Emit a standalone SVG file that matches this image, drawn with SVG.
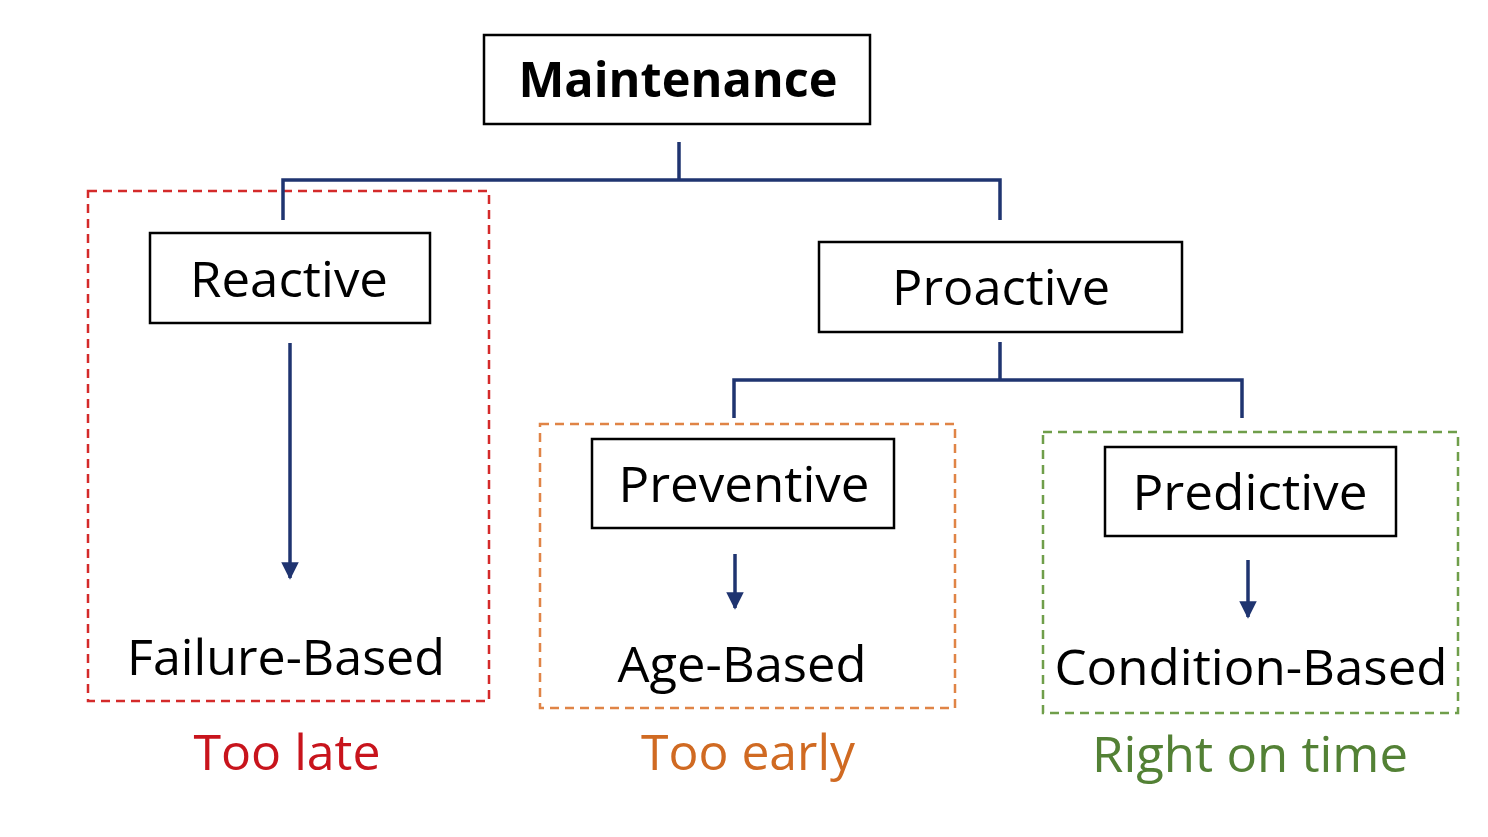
<svg xmlns="http://www.w3.org/2000/svg" width="1488" height="837" viewBox="0 0 1488 837">
<defs>
<style>
.box{fill:#fff;stroke:#000;stroke-width:2.5}
.t{font-family:"Open Sans","Noto Sans","Liberation Sans",sans-serif;font-size:49px;fill:#000;text-anchor:middle;font-variant-ligatures:none}
.b{font-weight:bold}
.c{fill:none;stroke:#1f3470;stroke-width:3.5}
.dash{fill:none;stroke-width:2.5;stroke-dasharray:9 6}
</style>
<marker id="ah2" viewBox="0 0 10 10" refX="9" refY="5" markerWidth="5.5" markerHeight="5" orient="auto">
<path d="M0,0 L10,5 L0,10 z" fill="#1f3470"/>
</marker>
</defs>
<rect width="1488" height="837" fill="#fff"/>
<g id="groups">
<rect id="g-reactive" class="dash" x="88" y="191" width="401" height="510" stroke="#d42a2a"/>
<rect id="g-preventive" class="dash" x="540" y="424" width="415" height="284" stroke="#e08446"/>
<rect id="g-predictive" class="dash" x="1043" y="432" width="415" height="281" stroke="#6f9e4a"/>
</g>
<g id="connectors">
<path class="c" d="M679,142 V180 M283,220 V180 H1000 V220"/>
<path class="c" d="M1000,342 V380 M734,418 V380 H1242 V418"/>
<path class="c" d="M290,343 V578" marker-end="url(#ah2)"/>
<path class="c" d="M735,554 V608" marker-end="url(#ah2)"/>
<path class="c" d="M1248,560 V617" marker-end="url(#ah2)"/>
</g>
<g id="n-maintenance">
<rect class="box" x="484" y="35" width="386" height="89"/>
<text class="t b" x="678" y="97" textLength="319" lengthAdjust="spacingAndGlyphs">Maintenance</text>
</g>
<g id="n-reactive">
<rect class="box" x="150" y="233" width="280" height="90"/>
<text class="t" x="289" y="297" textLength="198" lengthAdjust="spacingAndGlyphs">Reactive</text>
</g>
<g id="n-proactive">
<rect class="box" x="819" y="242" width="363" height="90"/>
<text class="t" x="1001" y="305" textLength="218" lengthAdjust="spacingAndGlyphs">Proactive</text>
</g>
<g id="n-preventive">
<rect class="box" x="592" y="439" width="302" height="89"/>
<text class="t" x="744" y="502" textLength="251" lengthAdjust="spacingAndGlyphs">Preventive</text>
</g>
<g id="n-predictive">
<rect class="box" x="1105" y="447" width="291" height="89"/>
<text class="t" x="1250" y="510" textLength="235" lengthAdjust="spacingAndGlyphs">Predictive</text>
</g>
<g id="n-failure">
<text class="t" x="286" y="675" textLength="318" lengthAdjust="spacingAndGlyphs">Failure-Based</text>
</g>
<g id="n-age">
<text class="t" x="742" y="682" textLength="249" lengthAdjust="spacingAndGlyphs">Age-Based</text>
</g>
<g id="n-condition">
<text class="t" x="1251" y="685" textLength="393" lengthAdjust="spacingAndGlyphs">Condition-Based</text>
</g>
<g id="n-toolate">
<text class="t" x="287" y="770" textLength="187" lengthAdjust="spacingAndGlyphs" style="fill:#c8141c">Too late</text>
</g>
<g id="n-tooearly">
<text class="t" x="748" y="770" textLength="214" lengthAdjust="spacingAndGlyphs" style="fill:#d06a22">Too early</text>
</g>
<g id="n-ontime">
<text class="t" x="1250" y="772" textLength="316" lengthAdjust="spacingAndGlyphs" style="fill:#538135">Right on time</text>
</g>
</svg>
